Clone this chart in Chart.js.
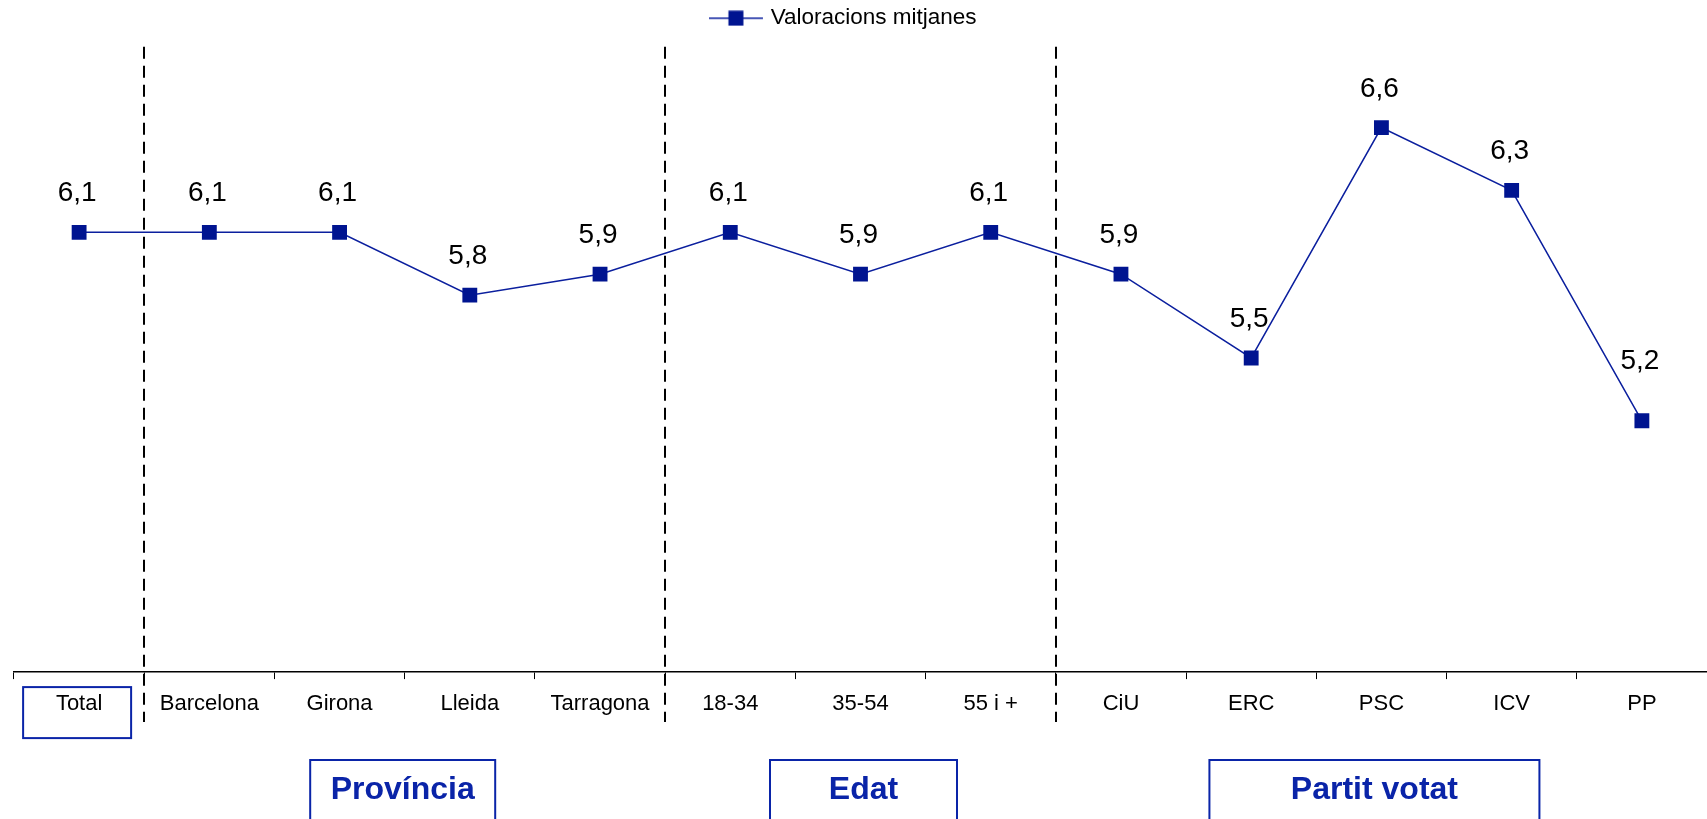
<!DOCTYPE html>
<html>
<head>
<meta charset="utf-8">
<script src="https://cdn.jsdelivr.net/npm/chart.js@4.4.1/dist/chart.umd.min.js"></script>
<style>
  html, body { margin: 0; padding: 0; background: #ffffff; }
  canvas { display: block; }
</style>
</head>
<body>
<canvas id="chart" width="1707" height="819"></canvas>
<script>
// ---------- data ----------
const categories = ['Total', 'Barcelona', 'Girona', 'Lleida', 'Tarragona', '18-34', '35-54', '55 i +', 'CiU', 'ERC', 'PSC', 'ICV', 'PP'];
const values = [6.1, 6.1, 6.1, 5.8, 5.9, 6.1, 5.9, 6.1, 5.9, 5.5, 6.6, 6.3, 5.2];
const seriesName = 'Valoracions mitjanes';
const groupLabels = ['Província', 'Edat', 'Partit votat'];
const groupFirst = [1, 5, 8];   // first category index of each group
const groupLast = [4, 7, 12];   // last category index of each group

// ---------- style ----------
const FONT = 'Arial, "Liberation Sans", Helvetica, sans-serif';
const LINE_COLOR = '#0b1f9e';
const MARK_COLOR = '#001490';
const BOX_COLOR = '#0a24a8';
const groupBoxWidths = [185, 187, 330];
const groupBoxShift = [-2, 3, -7];
const labelLift = [31, 31, 31, 31, 31, 31, 31, 31, 31, 31, 31, 31, 52];

Chart.defaults.font.family = FONT;

// legend symbol: line with a square marker
const legendSymbol = document.createElement('canvas');
legendSymbol.width = 89; legendSymbol.height = 16;
(function () {
  const g = legendSymbol.getContext('2d');
  g.strokeStyle = LINE_COLOR; g.lineWidth = 1.5;
  g.beginPath(); g.moveTo(0, 8); g.lineTo(54, 8); g.stroke();
  g.fillStyle = MARK_COLOR; g.fillRect(19.5, 0.5, 15, 15);
})();

const overlay = {
  id: 'overlay',
  afterDraw(chart) {
    const ctx = chart.ctx;
    const xs = chart.scales.x, ys = chart.scales.y;
    const meta = chart.getDatasetMeta(0);
    ctx.save();

    // value labels
    ctx.fillStyle = '#000';
    ctx.font = '28px ' + FONT;
    ctx.textAlign = 'center';
    ctx.textBaseline = 'alphabetic';
    meta.data.forEach((pt, i) => {
      ctx.fillText(String(values[i]).replace('.', ','), pt.x - 2, pt.y - labelLift[i]);
    });

    // dashed separators between groups
    ctx.strokeStyle = '#000';
    ctx.lineWidth = 2;
    ctx.setLineDash([12, 7]);
    groupFirst.forEach(f => {
      const x = Math.round((xs.getPixelForValue(f - 1) + xs.getPixelForValue(f)) / 2);
      ctx.beginPath();
      ctx.moveTo(x, ys.getPixelForValue(ys.max) + 3);
      ctx.lineTo(x, xs.top + 50);
      ctx.stroke();
    });
    ctx.setLineDash([]);

    // box around "Total"
    ctx.strokeStyle = BOX_COLOR;
    ctx.lineWidth = 2;
    const tx = xs.getPixelForValue(0) - 2;
    ctx.strokeRect(tx - 54, xs.top + 15, 108, 51);

    // group boxes
    ctx.font = 'bold 32px ' + FONT;
    ctx.fillStyle = BOX_COLOR;
    ctx.textBaseline = 'middle';
    groupLabels.forEach((lab, i) => {
      const cx = (xs.getPixelForValue(groupFirst[i]) + xs.getPixelForValue(groupLast[i])) / 2 + groupBoxShift[i];
      const w = groupBoxWidths[i];
      ctx.strokeRect(cx - w / 2, 760, w, 80);
      ctx.fillText(lab, cx, 790);
    });
    ctx.restore();
  }
};

new Chart(document.getElementById('chart'), {
  type: 'line',
  data: {
    labels: categories,
    datasets: [{
      label: seriesName,
      data: values,
      borderColor: LINE_COLOR,
      borderWidth: 1.5,
      backgroundColor: MARK_COLOR,
      pointStyle: 'rect',
      pointRadius: 10.5,
      pointBorderWidth: 0,
      pointBackgroundColor: MARK_COLOR,
      pointBorderColor: MARK_COLOR,
      tension: 0,
      fill: false
    }]
  },
  options: {
    responsive: false,
    devicePixelRatio: 1,
    animation: false,
    layout: { autoPadding: false, padding: { left: 14, right: -3, top: 0, bottom: 89.5 } },
    plugins: {
      tooltip: { enabled: false },
      legend: {
        display: true,
        position: 'top',
        labels: {
          usePointStyle: true,
          pointStyle: legendSymbol,
          pointStyleWidth: 12,
          padding: 7,
          color: '#000',
          font: { size: 22.5, family: FONT }
        }
      },
      title: {
        display: true,
        text: '',
        weight: 500,
        padding: 0,
        font: { size: 3.6 }
      }
    },
    scales: {
      x: {
        offset: true,
        afterFit(scale) { scale.paddingLeft = 0; scale.paddingRight = 0; },
        grid: { display: true, offset: true, drawOnChartArea: false, drawTicks: true, tickLength: 7, color: '#000', lineWidth: 1 },
        border: { display: true, color: '#000', width: 1.5 },
        ticks: { color: '#000', font: { size: 22, family: FONT }, padding: 12, autoSkip: false, maxRotation: 0 }
      },
      y: {
        display: false,
        min: 4,
        max: 7
      }
    }
  },
  plugins: [overlay]
});
</script>
</body>
</html>
